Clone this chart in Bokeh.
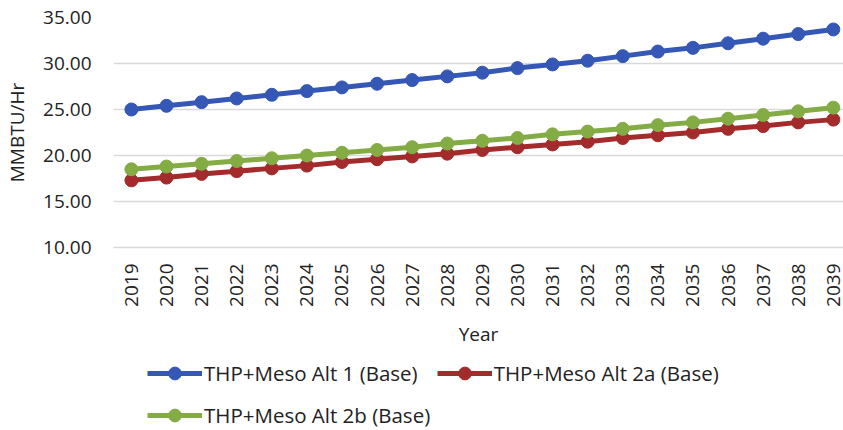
import math
from bokeh.plotting import figure
from bokeh.layouts import column
from bokeh.models import Range1d, FixedTicker, Legend, LegendItem, ColumnDataSource
from bokeh.embed import file_html
from bokeh.resources import INLINE

years = list(range(2019, 2040))
alt1 = [25.0, 25.4, 25.8, 26.2, 26.6, 27.0, 27.4, 27.8, 28.2, 28.6, 29.0,
        29.5, 29.9, 30.3, 30.8, 31.3, 31.7, 32.2, 32.7, 33.2, 33.7]
alt2a = [17.3, 17.6, 18.0, 18.3, 18.6, 18.9, 19.3, 19.6, 19.9, 20.2, 20.6,
         20.9, 21.2, 21.5, 21.9, 22.2, 22.5, 22.9, 23.2, 23.6, 23.9]
alt2b = [18.5, 18.8, 19.1, 19.4, 19.7, 20.0, 20.3, 20.6, 20.9, 21.3, 21.6,
         21.9, 22.3, 22.6, 22.9, 23.3, 23.6, 24.0, 24.4, 24.8, 25.2]
series_names = ["THP+Meso Alt 1 (Base)", "THP+Meso Alt 2a (Base)", "THP+Meso Alt 2b (Base)"]
colors = ["#3557B5", "#A32B2B", "#84AC45"]
y_ticks = [10, 15, 20, 25, 30, 35]

FONT = "Open Sans"
TXT = "#222222"

p = figure(width=843, height=350, output_backend="svg", toolbar_location=None,
           x_range=Range1d(2018.49, 2039.29), y_range=Range1d(10, 35),
           min_border_left=113, min_border_right=0, min_border_top=17, min_border_bottom=103)
p.outline_line_color = None

sources = []
for vals, col in zip([alt1, alt2a, alt2b], colors):
    src = ColumnDataSource(dict(x=years, y=vals))
    sources.append(src)
    p.line("x", "y", source=src, line_color=col, line_width=5)
    p.scatter("x", "y", source=src, size=13, fill_color=col, line_color=col)

# axes
p.xaxis.ticker = FixedTicker(ticks=years)
p.xaxis.major_label_orientation = math.pi / 2
p.xaxis.major_label_overrides = {y: str(y) for y in years}
p.xaxis.axis_line_color = "#D9D9D9"
p.xaxis.axis_line_width = 1.5
p.xaxis.major_tick_line_color = None
p.xaxis.minor_tick_line_color = None
p.xaxis.major_tick_out = 0
p.xaxis.major_tick_in = 0
p.xaxis.minor_tick_out = 0
p.xaxis.major_label_standoff = 16
p.xaxis.major_label_text_font = FONT
p.xaxis.major_label_text_font_size = "19px"
p.xaxis.major_label_text_color = TXT
p.xaxis.axis_label = "Year"
p.xaxis.axis_label_text_font = FONT
p.xaxis.axis_label_text_font_size = "19px"
p.xaxis.axis_label_text_font_style = "normal"
p.xaxis.axis_label_text_color = TXT
p.xaxis.axis_label_standoff = 11

p.yaxis.ticker = FixedTicker(ticks=y_ticks)
p.yaxis.major_label_overrides = {v: f"{v:.2f}" for v in y_ticks}
p.yaxis.axis_line_color = None
p.yaxis.major_tick_line_color = None
p.yaxis.minor_tick_line_color = None
p.yaxis.major_tick_out = 0
p.yaxis.major_tick_in = 0
p.yaxis.minor_tick_out = 0
p.yaxis.major_label_standoff = 22
p.yaxis.major_label_text_font = FONT
p.yaxis.major_label_text_font_size = "19px"
p.yaxis.major_label_text_color = TXT
p.yaxis.axis_label = "MMBTU/Hr"
p.yaxis.axis_label_text_font = FONT
p.yaxis.axis_label_text_font_size = "19px"
p.yaxis.axis_label_text_font_style = "normal"
p.yaxis.axis_label_text_color = TXT
p.yaxis.axis_label_standoff = 10

p.xgrid.grid_line_color = None
p.ygrid.grid_line_color = "#D9D9D9"
p.ygrid.grid_line_width = 1.5

# legend panel below the chart (series drawn outside its visible range)
p2 = figure(width=843, height=80, output_backend="svg", toolbar_location=None,
            x_range=Range1d(0, 1), y_range=Range1d(0, 1),
            min_border_left=0, min_border_right=0, min_border_top=0, min_border_bottom=0)
p2.outline_line_color = None
p2.axis.visible = False
p2.grid.visible = False

items = []
for src, name, col in zip(sources, series_names, colors):
    l = p2.line("x", "y", source=src, line_color=col, line_width=5)
    c = p2.scatter("x", "y", source=src, size=13, fill_color=col, line_color=col)
    items.append(LegendItem(label=name, renderers=[l, c]))

common = dict(orientation="horizontal", margin=0, padding=0,
              border_line_color=None, background_fill_alpha=0,
              label_text_font=FONT, label_text_font_size="20.5px",
              label_text_color=TXT, label_height=26,
              glyph_width=55, glyph_height=32, label_standoff=2, spacing=19)
legend1 = Legend(items=items[:2], location=(34, 41), **common)
legend2 = Legend(items=items[2:], location=(34, -1), **common)
p2.add_layout(legend1, "center")
p2.add_layout(legend2, "center")

layout = column(p, p2, spacing=0)
open("out.html", "w").write(file_html(layout, INLINE))
